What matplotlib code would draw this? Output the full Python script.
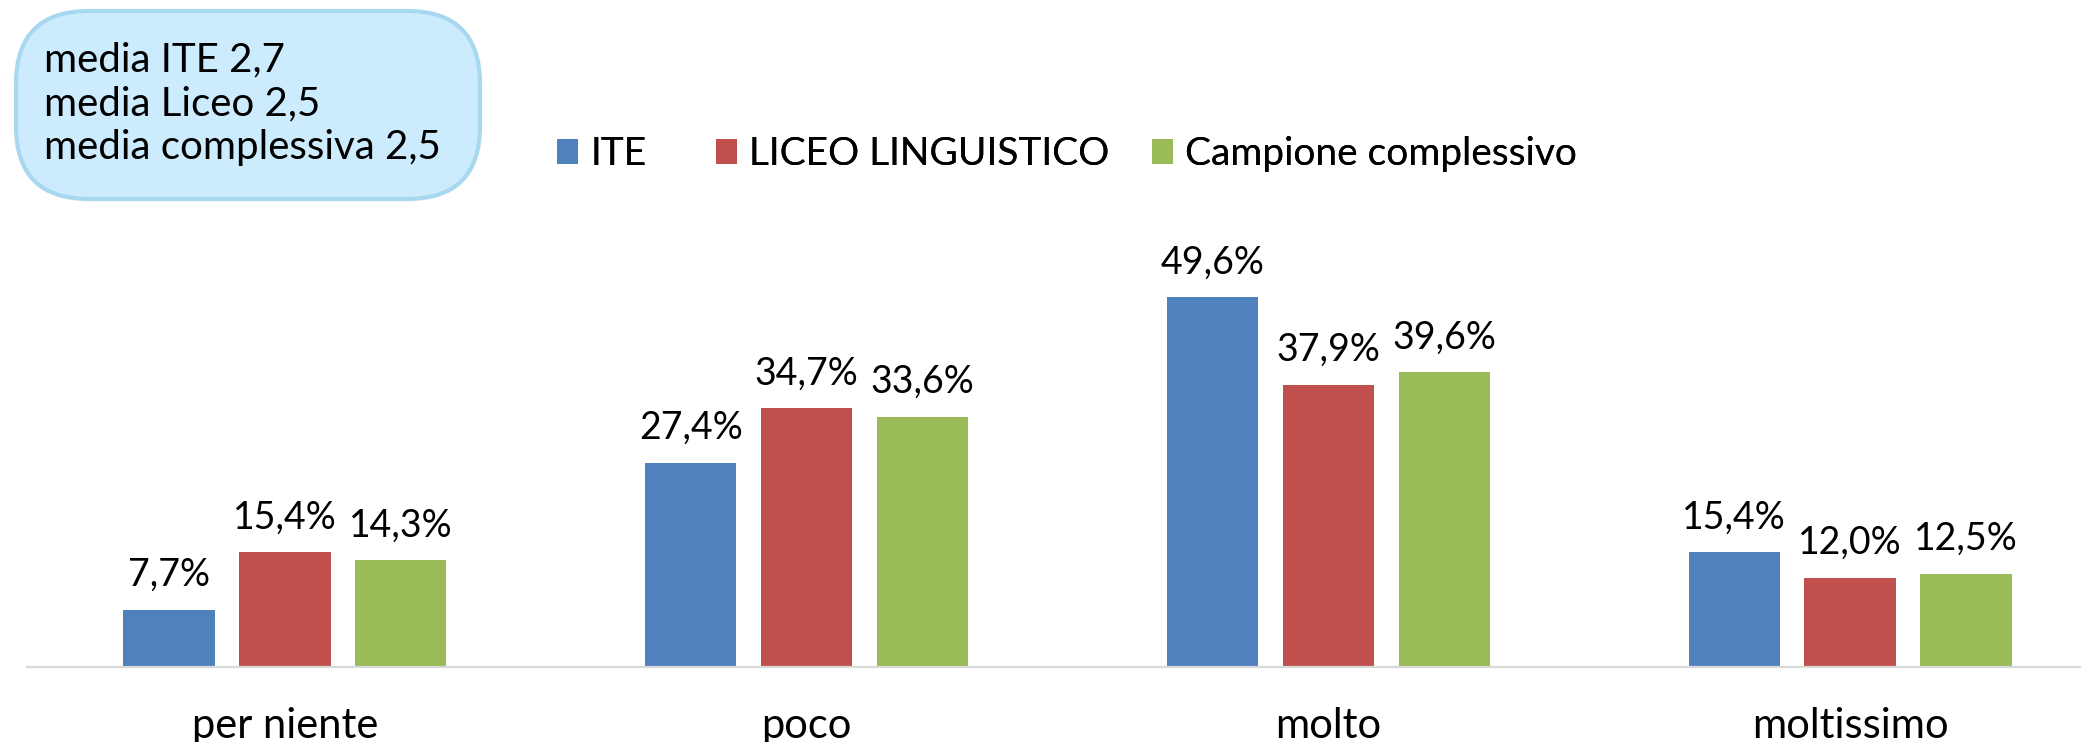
import matplotlib
matplotlib.use("Agg")
import matplotlib.pyplot as plt
from matplotlib.patches import FancyBboxPatch, Patch
import numpy as np

plt.rcParams['font.family'] = ['Lato', 'DejaVu Sans']

categories = ["per niente", "poco", "molto", "moltissimo"]
series_names = ["ITE", "LICEO LINGUISTICO", "Campione complessivo"]
ite = [7.7, 27.4, 49.6, 15.4]
liceo = [15.4, 34.7, 37.9, 12.0]
campione = [14.3, 33.6, 39.6, 12.5]
colors = ["#4F81BD", "#C0504D", "#9BBB59"]
box_lines = ["media ITE 2,7", "media Liceo 2,5", "media complessiva 2,5"]

W, H = 2081, 742
fig = plt.figure(figsize=(W / 100, H / 100), dpi=100)

# axes placement in pixel terms
left_px, right_px = 24, 2111
base_px, top_px = 667, 220
ax = fig.add_axes([left_px / W, (H - base_px) / H,
                   (right_px - left_px) / W, (base_px - top_px) / H])

x = np.arange(len(categories))
bw = 0.175
step = 0.222
fs_val = 27
fs_tick = 30
fs_leg = 28
fs_box = 29

for i, (vals, name, col) in enumerate(zip([ite, liceo, campione], series_names, colors)):
    pos = x + (i - 1) * step
    bars = ax.bar(pos, vals, width=bw, color=col, label=name, zorder=2)
    for b, v in zip(bars, vals):
        ax.annotate(f"{v:.1f}%".replace(".", ","),
                    (b.get_x() + b.get_width() / 2, v),
                    xytext=(0, 12), textcoords="offset points",
                    ha="center", va="bottom", fontsize=fs_val, color="black")

ax.set_xlim(-0.5, len(categories) - 0.5)
ax.set_ylim(0, 60)
ax.set_xticks(x)
ax.set_xticklabels(categories, fontsize=fs_tick)
ax.tick_params(axis="x", length=0, pad=29)
ax.set_yticks([])
for s in ["top", "left", "right"]:
    ax.spines[s].set_visible(False)
ax.spines["bottom"].set_color("#D9D9D9")
ax.spines["bottom"].set_linewidth(1.6)
ax.spines["bottom"].set_bounds(-0.5 + 3 / (right_px - left_px) * 4, 3.5)

# legend entries, one per series
leg_x = [557, 716, 1152]
for name, col, lx in zip(series_names, colors, leg_x):
    lg = fig.legend(handles=[Patch(facecolor=col, label=name)],
                    loc="center left", bbox_to_anchor=(lx / W, 1 - 154 / H),
                    frameon=False, fontsize=fs_leg,
                    handlelength=0.55, handleheight=0.62, handletextpad=0.3,
                    borderpad=0, borderaxespad=0)
    fig.add_artist(lg)

# info box with averages
box = FancyBboxPatch((16 / W, 1 - 199 / H), (480 - 16) / W, (199 - 11) / H,
                     boxstyle="round,pad=0,rounding_size=0.035",
                     transform=fig.transFigure, facecolor="#CCEBFC",
                     edgecolor="#A8D8EF", linewidth=3, mutation_aspect=W / H)
fig.patches.append(box)
for k, line in enumerate(box_lines):
    fig.text(44 / W, 1 - (60 + 44 * k) / H, line, fontsize=fs_box,
             ha="left", va="center", color="black")

fig.savefig("out.png", dpi=100)
